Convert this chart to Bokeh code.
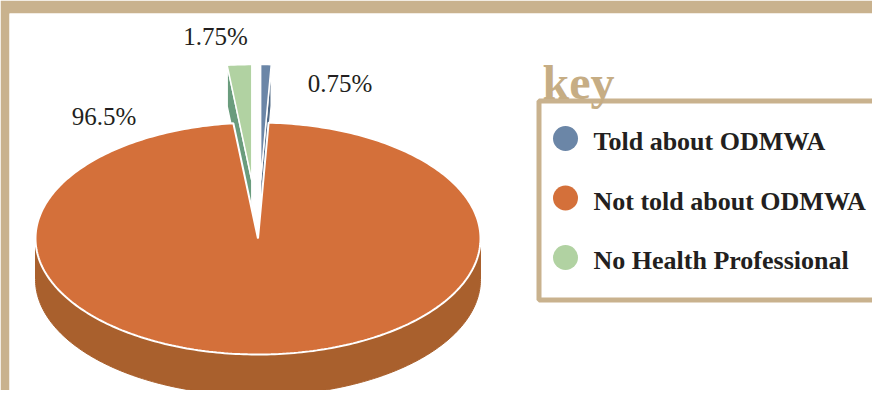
import numpy as np
from bokeh.plotting import figure
from bokeh.models import Range1d
from bokeh.core.properties import value
from bokeh.embed import file_html
from bokeh.resources import INLINE

# ---- data ----
categories = ["Told about ODMWA", "Not told about ODMWA", "No Health Professional"]
percent = [0.75, 96.5, 1.75]
labels = ["0.75%", "96.5%", "1.75%"]
exploded = [True, False, True]

# ---- styles / layout ----
top_colors = ["#6B86A7", "#D4703A", "#B1D2A2"]
side_colors = ["#506985", "#A9602D", "#6A9C7D"]
TAN = "#C9B28E"
KEY_TAN = "#C6AD84"
TEXT = "#231F20"
label_x = [339.5, 103.5, 215.0]
label_y = [82.5, 115.5, 35.5]   # visual centres of the percentage labels

CX, CY, RX, RY, DEPTH, EXPLODE = 257.5, 238.0, 222.5, 116.0, 41.0, 0.5

p = figure(width=872, height=390, x_range=Range1d(9, 872), y_range=Range1d(390, 13),
           output_backend="svg", toolbar_location=None,
           x_axis_location=None, y_axis_location=None,
           min_border_left=9, min_border_top=13, min_border_right=0, min_border_bottom=0,
           border_fill_color=TAN, background_fill_color="white", outline_line_color=None)
p.grid.visible = False


def pt(theta_deg, ox=0.0, oy=0.0, dz=0.0):
    t = np.radians(theta_deg)
    return CX + ox + RX * np.sin(t), CY + oy - RY * np.cos(t) + dz


total = sum(percent)
starts, ends = [], []
acc = 0.0
for v in percent:
    starts.append(acc / total * 360.0)
    acc += v
    ends.append(acc / total * 360.0)


def offset(i):
    if not exploded[i]:
        return 0.0, 0.0
    mid = np.radians((starts[i] + ends[i]) / 2)
    return EXPLODE * RX * np.sin(mid), -EXPLODE * RY * np.cos(mid)


def top_face(i):
    ox, oy = offset(i)
    th = np.linspace(starts[i], ends[i], max(3, int(ends[i] - starts[i]) + 2))
    xs, ys = pt(th, ox, oy)
    return [CX + ox] + list(xs), [CY + oy] + list(ys)


def radial_faces(i):
    ox, oy = offset(i)
    faces = []
    for th, vis in ((starts[i], np.sin(np.radians(starts[i])) < -1e-9),
                    (ends[i], np.sin(np.radians(ends[i])) > 1e-9)):
        if vis and (ends[i] - starts[i]) < 180:
            x1, y1 = pt(th, ox, oy)
            ax, ay = CX + ox, CY + oy
            faces.append(([ax, x1, x1, ax], [ay, y1, y1 + DEPTH, ay + DEPTH]))
    return faces


def outer_wall(i):
    lo, hi = max(starts[i], 90.0), min(ends[i], 270.0)
    if hi <= lo:
        return None
    ox, oy = offset(i)
    th = np.linspace(lo, hi, int(hi - lo) + 2)
    xs, ys = pt(th, ox, oy)
    return list(xs) + list(xs[::-1]), list(ys) + list((ys + DEPTH)[::-1])


order = [i for i in range(len(percent)) if exploded[i]] + [i for i in range(len(percent)) if not exploded[i]]
for i in order:
    w = outer_wall(i)
    if w:
        p.patch(w[0], w[1], fill_color=side_colors[i], line_color=side_colors[i], line_width=1)
    lw = 1.5 if exploded[i] else 2
    for fx, fy in radial_faces(i):
        p.patch(fx, fy, fill_color=side_colors[i], line_color="white", line_width=lw)
    tx, ty = top_face(i)
    p.patch(tx, ty, fill_color=top_colors[i], line_color="white", line_width=lw)

# percentage labels
p.text(x=label_x, y=label_y, text=labels, text_font=value("Liberation Serif"),
       text_font_size="25px", text_align="center", text_baseline="middle", text_color=TEXT)

# legend ("key") box
p.line([900, 538.5, 538.5, 900], [100.5, 100.5, 299.5, 299.5], line_color=TAN, line_width=5)
p.text(x=[542], y=[82], text=["key"], text_font=value("Liberation Serif"), text_font_style="bold",
       text_font_size="48px", text_align="left", text_baseline="middle", text_color=KEY_TAN)
n = len(categories)
ly = [138 + k * 59.5 for k in range(n)]
p.scatter(x=[565] * n, y=ly, size=25, fill_color=top_colors, line_color=None)
p.text(x=[593] * n, y=[v + 3 for v in ly], text=categories, text_font=value("Liberation Serif"),
       text_font_style="bold", text_font_size="26px", text_align="left", text_baseline="middle",
       text_color=TEXT)

open("out.html", "w").write(file_html(p, INLINE))
